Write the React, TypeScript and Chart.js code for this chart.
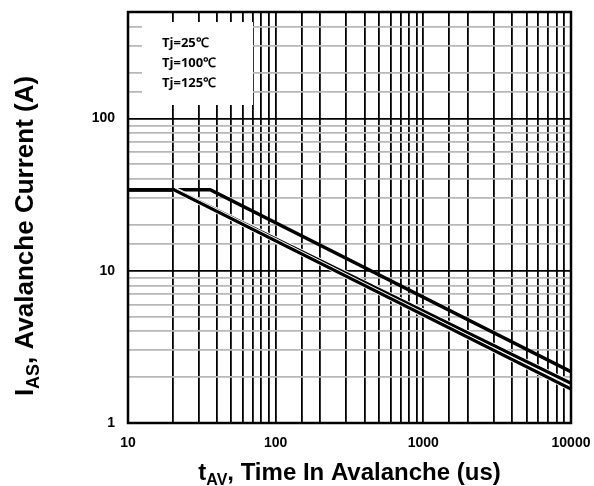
import React, { useEffect, useRef } from "react";
import { Chart, registerables } from "chart.js";

Chart.register(...registerables);

// Avalanche time (us) and current (A) for each junction temperature
const seriesLabels = ["Tj=25℃", "Tj=100℃", "Tj=125℃"];
const time25 = [10, 36, 10000];
const current25 = [34, 34, 2.17];
const time100 = [10, 21, 10000];
const current100 = [34, 34, 1.82];
const time125 = [10, 20.5, 10000];
const current125 = [34, 34, 1.67];

const xTickLabels = [10, 100, 1000, 10000];
const yTickLabels = [1, 10, 100];

const FONT = "'Liberation Sans', Arial, sans-serif";

const toPoints = (xs: number[], ys: number[]) => xs.map((x, i) => ({ x, y: ys[i] }));
const slopePart = (xs: number[], ys: number[]) => toPoints(xs, ys).slice(1);

function drawSubText(
  ctx: CanvasRenderingContext2D,
  parts: { t: string; sub?: boolean }[],
  cx: number,
  baseline: number,
  size: number
) {
  const subSize = Math.round(size * 0.68);
  const widths = parts.map((p) => {
    ctx.font = `bold ${p.sub ? subSize : size}px ${FONT}`;
    return ctx.measureText(p.t).width;
  });
  const total = widths.reduce((a, b) => a + b, 0);
  let x = cx - total / 2;
  ctx.textAlign = "left";
  ctx.textBaseline = "alphabetic";
  parts.forEach((p, i) => {
    ctx.font = `bold ${p.sub ? subSize : size}px ${FONT}`;
    ctx.fillText(p.t, x, baseline + (p.sub ? size * 0.22 : 0));
    x += widths[i];
  });
}

const decorPlugin = {
  id: "decor",
  beforeDatasetsDraw(chart: any) {
    const { ctx, chartArea } = chart;
    ctx.save();
    // legend panel
    const bx = chartArea.left + 14;
    const by = chartArea.top + 10;
    ctx.fillStyle = "#ffffff";
    ctx.fillRect(bx, by, 111, 83);
    ctx.fillStyle = "#000000";
    ctx.font = `bold 13px 'Open Sans', sans-serif`;
    ctx.textAlign = "left";
    ctx.textBaseline = "middle";
    seriesLabels.forEach((s, i) => {
      ctx.fillText(s, bx + 20, by + 21 + i * 20);
    });
    ctx.restore();
  },
  afterDatasetsDraw(chart: any) {
    const { ctx, chartArea } = chart;
    ctx.save();
    ctx.strokeStyle = "#000000";
    ctx.lineWidth = 2.5;
    ctx.strokeRect(
      chartArea.left,
      chartArea.top,
      chartArea.right - chartArea.left,
      chartArea.bottom - chartArea.top
    );
    ctx.fillStyle = "#000000";
    // x-axis title
    drawSubText(
      ctx,
      [{ t: "t" }, { t: "AV", sub: true }, { t: ", Time In Avalanche (us)" }],
      (chartArea.left + chartArea.right) / 2,
      480,
      24
    );
    // y-axis title
    ctx.translate(33, 236);
    ctx.rotate(-Math.PI / 2);
    drawSubText(
      ctx,
      [{ t: "I" }, { t: "AS", sub: true }, { t: ", Avalanche Current (A)" }],
      0,
      0,
      26
    );
    ctx.restore();
  },
};

export default function App() {
  const ref = useRef<HTMLCanvasElement | null>(null);

  useEffect(() => {
    if (!ref.current) return;
    const isMajor = (v: number) => Math.abs(Math.log10(v) - Math.round(Math.log10(v))) < 1e-6;
    const line = (data: any[], color: string, width: number, order: number) => ({
      data,
      borderColor: color,
      borderWidth: width,
      pointRadius: 0,
      showLine: true,
      fill: false,
      tension: 0,
      order,
    });
    const chart = new Chart(ref.current, {
      type: "scatter",
      data: {
        datasets: [
          line(toPoints(time125, current125), "#000000", 3.2, 0),
          line(slopePart(time125, current125), "#ffffff", 5, 1),
          line(toPoints(time100, current100), "#000000", 3.2, 2),
          line(slopePart(time100, current100), "#ffffff", 5, 3),
          line(toPoints(time25, current25), "#000000", 3.5, 4),
        ],
      },
      plugins: [decorPlugin],
      options: {
        responsive: false,
        animation: false,
        events: [],
        layout: { padding: { top: 12, right: 23, left: 0, bottom: 0 } },
        plugins: {
          legend: { display: false },
          tooltip: { enabled: false },
          title: { display: false },
        },
        scales: {
          x: {
            type: "logarithmic",
            min: 10,
            max: 10000,
            afterFit(scale: any) {
              scale.height = 63;
              scale.paddingLeft = 0;
              scale.paddingRight = 0;
            },
            border: { display: false },
            grid: {
              drawTicks: false,
              color: "#000000",
              lineWidth: 1.8,
            },
            ticks: {
              autoSkip: false,
              maxRotation: 0,
              padding: 12,
              color: "#000000",
              font: { family: FONT, size: 14, weight: "bold" },
              callback: (v: any) => (xTickLabels.includes(Number(v)) ? String(v) : ""),
            },
          },
          y: {
            type: "logarithmic",
            min: 1,
            max: 500,
            afterFit(scale: any) {
              scale.width = 128;
              scale.paddingTop = 0;
              scale.paddingBottom = 0;
            },
            border: { display: false },
            grid: {
              drawTicks: false,
              color: (c: any) => (isMajor(c.tick.value) ? "#000000" : "#b8b8b8"),
              lineWidth: 1.8,
            },
            ticks: {
              autoSkip: false,
              padding: 13,
              color: "#000000",
              font: { family: FONT, size: 14, weight: "bold" },
              callback: (v: any) => (yTickLabels.includes(Number(v)) ? String(v) : ""),
            },
          },
        },
      },
    } as any);
    return () => chart.destroy();
  }, []);

  return (
    <div style={{ position: "fixed", left: 0, top: 0, width: 594, height: 486, background: "#ffffff" }}>
      <canvas ref={ref} width={594} height={486} />
    </div>
  );
}
